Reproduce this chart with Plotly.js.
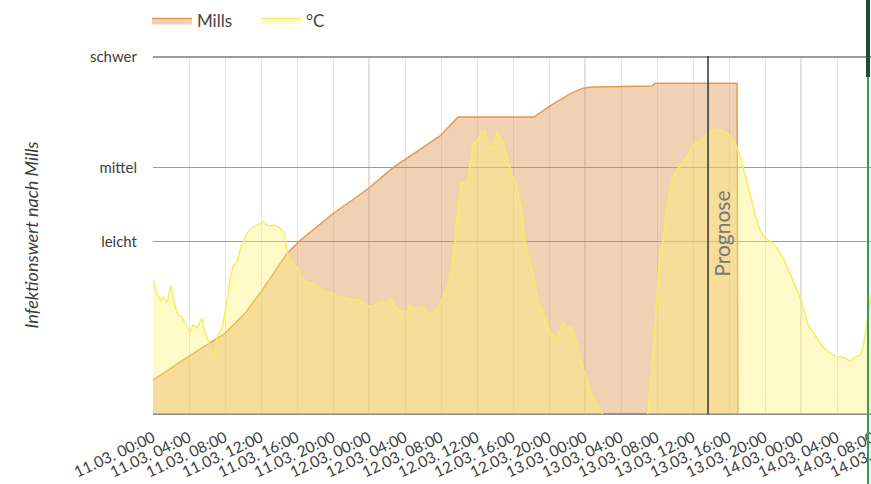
<!DOCTYPE html>
<html>
<head>
<meta charset="utf-8">
<script src="https://cdn.plot.ly/plotly-3.0.1.min.js"></script>
<style>
  html, body { margin: 0; padding: 0; overflow: hidden; background: #fff; }
  #chart { width: 960px; height: 484px; }
  #frameTop { position: absolute; left: 866px; top: 0; width: 4px; height: 77px; background: #1d4d2a; }
  #frameLine { position: absolute; left: 867px; top: 77px; width: 2px; height: 407px; background: #2f9e5c; }
</style>
</head>
<body>
<div id="chart"></div>
<div id="frameTop"></div>
<div id="frameLine"></div>
<script>
// ---- data ----
const startDay = Date.UTC(2025, 2, 11, 0, 0, 0);

// Mills infection value (0 = none ... 100 = "schwer")
const millsHours = [0.00, 4.00, 8.00, 10.22, 12.11, 14.89, 16.33, 20.00, 23.89, 26.67, 31.89, 33.33, 33.89, 42.33, 44.11, 46.33, 47.78, 48.89, 55.44, 55.78, 64.89, 65.00, 84.00];
const millsValues = [9.5, 16.2, 22.6, 28.2, 34.6, 45.0, 48.6, 56.1, 63.1, 69.0, 77.9, 81.6, 83.2, 83.2, 86.3, 89.7, 91.3, 91.6, 91.9, 92.7, 92.7, 0, 0];

// Temperature °C
const tempHours = [0.00, 0.44, 0.89, 1.11, 1.56, 2.00, 2.44, 2.78, 3.22, 3.56, 4.11, 4.44, 4.89, 5.44, 5.67, 6.11, 6.67, 7.11, 7.67, 8.11, 8.56, 8.89, 9.33, 9.67, 10.44, 11.00, 11.89, 12.22, 12.78, 13.56, 14.11, 14.56, 14.89, 15.22, 16.00, 16.56, 17.22, 17.78, 18.56, 19.11, 19.89, 20.44, 21.56, 22.22, 22.78, 23.33, 24.11, 24.44, 25.22, 26.00, 26.33, 26.67, 27.22, 27.78, 28.22, 28.56, 29.11, 29.89, 30.67, 31.33, 32.11, 32.67, 33.22, 33.56, 33.89, 34.22, 34.89, 35.22, 35.56, 36.00, 36.44, 36.89, 37.22, 37.67, 38.22, 38.89, 39.44, 39.89, 40.44, 41.00, 41.33, 42.11, 42.78, 43.22, 44.11, 44.89, 45.56, 46.00, 46.44, 46.89, 47.44, 48.22, 48.89, 49.89, 50.78, 51.89, 53.00, 54.11, 55.00, 55.44, 55.78, 56.11, 56.33, 56.67, 57.11, 57.78, 58.56, 59.33, 59.78, 60.44, 61.00, 61.56, 62.22, 62.78, 63.67, 64.33, 64.89, 65.44, 66.11, 66.89, 67.44, 68.00, 68.56, 69.33, 70.00, 70.78, 71.56, 72.11, 72.78, 73.78, 74.44, 75.22, 76.00, 76.67, 77.44, 78.00, 78.56, 78.89, 79.33, 79.89];
const tempValues = [7.49, 6.70, 6.31, 6.54, 6.26, 7.15, 6.03, 5.53, 5.42, 5.08, 4.58, 4.97, 4.80, 5.36, 4.69, 4.13, 3.13, 4.30, 4.80, 5.98, 7.49, 8.27, 8.49, 9.16, 10.11, 10.39, 10.67, 10.73, 10.50, 10.56, 10.39, 10.11, 9.16, 8.60, 8.21, 7.60, 7.32, 7.32, 7.04, 6.76, 6.76, 6.54, 6.48, 6.37, 6.37, 6.26, 5.98, 5.98, 6.26, 6.26, 6.42, 6.20, 5.81, 5.75, 5.70, 6.09, 5.81, 5.98, 5.53, 5.70, 6.37, 7.04, 8.32, 9.72, 11.56, 12.91, 12.85, 13.80, 15.14, 15.20, 15.75, 15.87, 15.03, 14.80, 15.75, 15.20, 14.08, 13.35, 12.68, 11.28, 9.55, 8.04, 6.20, 5.92, 4.53, 4.19, 5.14, 4.75, 4.86, 4.25, 3.18, 1.90, 0.89, 0.06, -0.8, -1.5, -1.6, -0.9, 0.06, 2.74, 4.86, 7.49, 8.88, 9.72, 11.56, 13.24, 13.91, 14.36, 14.92, 15.20, 15.36, 15.64, 15.87, 15.92, 15.75, 15.42, 14.92, 14.02, 12.68, 11.23, 10.28, 9.83, 9.66, 9.27, 8.72, 7.88, 6.93, 6.20, 4.97, 4.25, 3.74, 3.41, 3.18, 3.18, 2.96, 3.18, 3.30, 3.74, 5.25, 6.93];

// axis categories
const levelValues = [48.3, 69.0, 100];
const levelLabels = ['leicht', 'mittel', 'schwer'];
const dayBoundaries = [24, 48, 72];
const forecastHour = 61.67;
const xRangeHours = [0, 84];

// ---- helpers ----
function toDate(h) {
  return new Date(startDay + Math.round(h * 3600000)).toISOString().slice(0, 19).replace('T', ' ');
}

const FONT = 'Lato, "Open Sans", sans-serif';

const traces = [
  {
    name: 'Mills',
    x: millsHours.map(toDate),
    y: millsValues,
    type: 'scatter',
    mode: 'lines',
    fill: 'tozeroy',
    fillcolor: 'rgba(220,145,75,0.42)',
    line: { color: '#e39a4f', width: 1.5 },
    hoverinfo: 'skip'
  },
  {
    name: '°C',
    x: tempHours.map(toDate),
    y: tempValues,
    yaxis: 'y2',
    type: 'scatter',
    mode: 'lines',
    fill: 'tozeroy',
    fillcolor: 'rgba(255,242,110,0.38)',
    line: { color: '#f9ec64', width: 1.5 },
    hoverinfo: 'skip'
  }
];

const shapes = dayBoundaries.map(h => ({
  type: 'line', xref: 'x', yref: 'paper',
  x0: toDate(h), x1: toDate(h), y0: 0, y1: 1,
  line: { color: '#d2d2d2', width: 1.5 },
  layer: 'between'
}));
shapes.push({
  type: 'line', xref: 'x', yref: 'paper',
  x0: toDate(forecastHour), x1: toDate(forecastHour), y0: 0, y1: 1,
  line: { color: '#333', width: 1.5 },
  layer: 'above'
});

const layout = {
  width: 960,
  height: 484,
  margin: { l: 153, r: 51, t: 56, b: 70, autoexpand: false },
  paper_bgcolor: '#fff',
  plot_bgcolor: '#fff',
  font: { family: FONT, color: '#444' },
  showlegend: true,
  legend: {
    orientation: 'h',
    x: -0.008, xanchor: 'left',
    y: 1.098, yanchor: 'middle',
    font: { family: FONT, size: 17, color: '#444' },
    entrywidth: 54,
    itemwidth: 40,
    traceorder: 'normal'
  },
  xaxis: {
    type: 'date',
    range: [toDate(xRangeHours[0]), toDate(xRangeHours[1])],
    tick0: toDate(0),
    dtick: 4 * 3600000,
    tickformat: '%d.%m. %H:%M',
    tickangle: -25,
    tickfont: { family: FONT, size: 15.5, color: '#3d3d3d' },
    ticks: 'outside', ticklen: 8, tickcolor: 'rgba(0,0,0,0)',
    showgrid: true, gridcolor: '#e6e6e6', gridwidth: 1,
    zeroline: false, showline: false,
    fixedrange: true
  },
  yaxis: {
    range: [0, 100.3],
    tickmode: 'array',
    tickvals: levelValues,
    ticktext: levelLabels,
    tickfont: { family: FONT, size: 15, color: '#3d3d3d' },
    ticks: 'outside', ticklen: 12, tickcolor: 'rgba(0,0,0,0)',
    showgrid: true, gridcolor: '#9c9c9c', gridwidth: 1.5,
    zeroline: true, zerolinecolor: '#8a8a8a', zerolinewidth: 2,
    showline: false,
    title: { text: '<i>Infektionswert nach Mills</i>', font: { family: FONT, size: 18, color: '#3d3d3d' }, standoff: 46 },
    fixedrange: true
  },
  yaxis2: {
    overlaying: 'y',
    range: [0, 20],
    visible: false,
    showgrid: false,
    zeroline: false,
    fixedrange: true
  },
  shapes: shapes,
  annotations: [{
    text: 'Prognose',
    xref: 'x', yref: 'paper',
    x: toDate(63.2), y: 0.503,
    textangle: -90,
    showarrow: false,
    font: { family: FONT, size: 21, color: '#777' }
  }]
};

Plotly.newPlot('chart', traces, layout, { displayModeBar: false, staticPlot: true });
</script>
</body>
</html>
